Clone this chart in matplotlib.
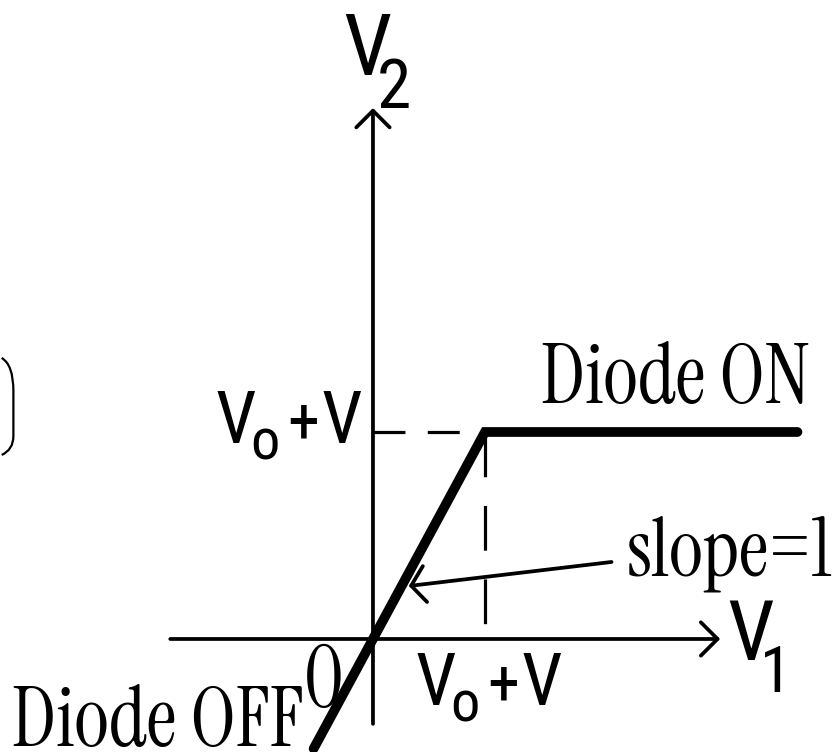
import numpy as np
import matplotlib
matplotlib.use("Agg")
from matplotlib import pyplot as plt
from matplotlib.path import Path
from matplotlib.patches import PathPatch

# transfer characteristic of the diode clipper (x = V1, y = V2, unit = Vo+V)
v1_curve = [-0.53, 0.0, 1.0, 3.79]
v2_curve = [-0.53, 0.0, 1.0, 1.0]
knee = (1.0, 1.0)
x_axis = [-1.81, 3.10]
y_axis = [-0.41, 2.565]
slope_from = (2.13, 0.372)
slope_to = (0.32, 0.256)

fig = plt.figure(figsize=(8.37, 7.52), dpi=100)
ax = fig.add_axes([0, 0, 1, 1])
ax.set_xlim(-3.330, 4.143)
ax.set_ylim(-0.546, 3.087)
ax.axis('off')

# axes with open arrow heads
arrow = dict(arrowstyle='->,head_length=0.6,head_width=0.6', lw=2.7, color='k',
             shrinkA=0, shrinkB=0, mutation_scale=20)
ax.annotate('', xy=(x_axis[1], 0), xytext=(x_axis[0], 0), arrowprops=arrow)
ax.annotate('', xy=(0, y_axis[1]), xytext=(0, y_axis[0]), arrowprops=arrow)

# dashed guides to the knee
ax.plot([0, knee[0]], [knee[1], knee[1]], color='k', lw=2.3, ls=(0, (10, 7)))
ax.plot([knee[0], knee[0]], [knee[1], 0], color='k', lw=2.3, ls=(0, (14, 9)))

# the characteristic itself
ax.plot(v1_curve, v2_curve, color='k', lw=7, solid_capstyle='round',
        solid_joinstyle='miter')

# slope arrow
ax.annotate('', xy=slope_to, xytext=slope_from,
            arrowprops=dict(arrowstyle='->,head_length=0.5,head_width=0.65', lw=2.7,
                            color='k', shrinkA=0, shrinkB=0, mutation_scale=20))

serif = ['Instrument Serif', 'Liberation Serif']
sans = ['Roboto Condensed', 'Liberation Sans']

def fx(x):
    return x / 837

def fy(y):
    return 1 - y / 752

# serif labels
fig.text(fx(675), fy(403), 'Diode ON', family=serif, size=60, ha='center', va='baseline')
fig.text(fx(730), fy(575), 'slope=1', family=serif, size=59, ha='center', va='baseline')
fig.text(fx(158), fy(746), 'Diode OFF', family=serif, size=60, ha='center', va='baseline')
fig.text(fx(324), fy(707), '0', family=serif, size=62, ha='center', va='baseline')

# axis names
fig.text(fx(367), fy(75), 'V', family=sans, size=62, ha='center', va='baseline')
fig.text(fx(394), fy(108), '2', family=sans, size=50, ha='center', va='baseline')
fig.text(fx(751), fy(660), 'V', family=sans, size=60, ha='center', va='baseline')
fig.text(fx(776), fy(692), '1', family=sans, size=46, ha='center', va='baseline')

# Vo+V labels
for xv, yb in [(236, 443), (436, 705)]:
    fig.text(fx(xv), fy(yb), 'V', family=sans, size=52, ha='center', va='baseline')
    fig.text(fx(xv + 29), fy(yb + 17), 'o', family=sans, size=42, ha='center', va='baseline')
    fig.text(fx(xv + 67), fy(yb), '+', family=sans, size=46, ha='center', va='baseline')
    fig.text(fx(xv + 106), fy(yb), 'V', family=sans, size=52, ha='center', va='baseline')

# cut-off bracket at the left edge
bracket = Path([(0.002, 0.524), (0.016, 0.515), (0.016, 0.48), (0.016, 0.42),
                (0.016, 0.42), (0.016, 0.402), (0.002, 0.395)],
               [Path.MOVETO, Path.CURVE3, Path.CURVE3, Path.LINETO,
                Path.MOVETO, Path.CURVE3, Path.CURVE3])
ax.add_patch(PathPatch(bracket, transform=fig.transFigure, fill=False, lw=1.6, color='k'))

plt.savefig('out.png', dpi=100)
